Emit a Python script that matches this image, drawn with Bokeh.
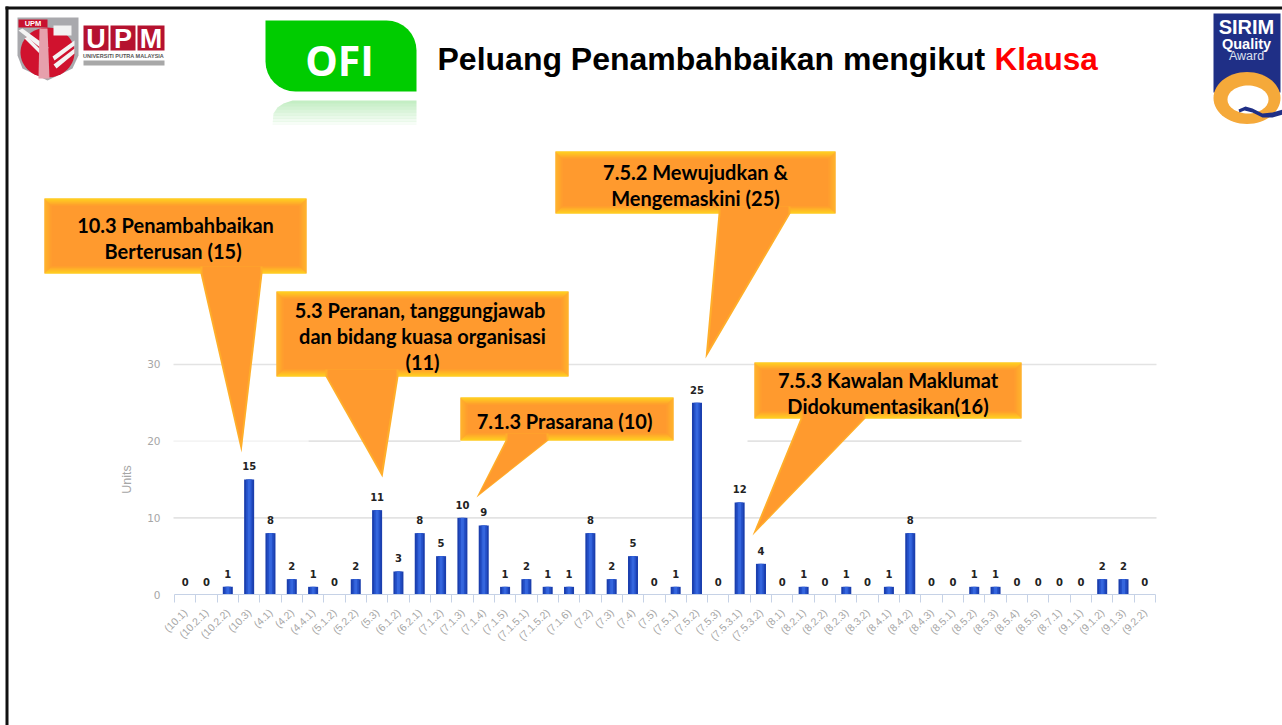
import math
from bokeh.plotting import figure
from bokeh.models import ColumnDataSource, FixedTicker, Label, PolyAnnotation
from bokeh.core.properties import value
from bokeh.embed import file_html
from bokeh.resources import INLINE

clauses = ["(10.1)", "(10.2.1)", "(10.2.2)", "(10.3)", "(4.1)", "(4.2)", "(4.4.1)", "(5.1.2)", "(5.2.2)", "(5.3)",
           "(6.1.2)", "(6.2.1)", "(7.1.2)", "(7.1.3)", "(7.1.4)", "(7.1.5)", "(7.1.5.1)", "(7.1.5.2)", "(7.1.6)", "(7.2)",
           "(7.3)", "(7.4)", "(7.5)", "(7.5.1)", "(7.5.2)", "(7.5.3)", "(7.5.3.1)", "(7.5.3.2)", "(8.1)", "(8.2.1)",
           "(8.2.2)", "(8.2.3)", "(8.3.2)", "(8.4.1)", "(8.4.2)", "(8.4.3)", "(8.5.1)", "(8.5.2)", "(8.5.3)", "(8.5.4)",
           "(8.5.5)", "(8.7.1)", "(9.1.1)", "(9.1.2)", "(9.1.3)", "(9.2.2)"]
units = [0, 0, 1, 15, 8, 2, 1, 0, 2, 11,
         3, 8, 5, 10, 9, 1, 2, 1, 1, 8,
         2, 5, 0, 1, 25, 0, 12, 4, 0, 1,
         0, 1, 0, 1, 8, 0, 0, 1, 1, 0,
         0, 0, 0, 2, 2, 0]
y_ticks = [0, 10, 20, 30]
title_main = "Peluang Penambahbaikan mengikut "
title_red = "Klausa"

W, H = 1282, 725
# the frame fills the page; the scales put the plot area at these page pixels
PLOT_L, PLOT_R, PLOT_BASE, PX_PER_UNIT = 174.0, 1155.0, 594.0, 7.667
n = len(clauses)
px_per_cat = (PLOT_R - PLOT_L) / n
x_start = -0.5 - PLOT_L / px_per_cat
x_end = n - 0.5 + (W - PLOT_R) / px_per_cat
y_end = PLOT_BASE / PX_PER_UNIT
y_start = -(H - PLOT_BASE) / PX_PER_UNIT


def cat(page_x):
    return (page_x - PLOT_L) / px_per_cat - 0.5


idx = list(range(n))
src = ColumnDataSource(dict(x=idx, y=units, t=[str(v) for v in units]))

p = figure(width=W, height=H, output_backend="svg", toolbar_location=None,
           x_range=(x_start, x_end), y_range=(y_start, y_end), min_border=0)
p.outline_line_color = None
p.background_fill_color = "white"
p.border_fill_color = "white"
p.grid.visible = False

# horizontal rules: the 20 rule is broken up in the original slide
for y, x0, x1, col in [(10, 173, 1156, "#E3E3E3"), (30, 173, 1156, "#E3E3E3"), (20, 173, 308, "#F4F4F4"),
                       (20, 308, 460, "#E3E3E3"), (20, 747, 1021, "#E3E3E3")]:
    p.segment(x0=[cat(x0)], x1=[cat(x1)], y0=[y], y1=[y], line_color=col, line_width=1.6)
p.vbar(x="x", top="y", width=0.47, bottom=0, source=src, fill_color="#1B3FAE", line_color=None)
p.vbar(x="x", top="y", width=0.3, bottom=0, source=src, fill_color="#2450C8", line_color=None)
p.vbar(x="x", top="y", width=0.14, bottom=0, source=src, fill_color="#3566DE", line_color=None)
p.text(x="x", y="y", text="t", source=src, y_offset=-9, text_align="center", text_baseline="bottom",
       text_font=value("DejaVu Sans"), text_font_style="bold", text_font_size="10px", text_color="#222222")

xa = p.xaxis[0]
xa.fixed_location = 0
xa.bounds = (-0.5, n - 0.5)
xa.ticker = FixedTicker(ticks=idx, minor_ticks=[i - 0.5 for i in range(n + 1)])
xa.major_label_overrides = {i: c for i, c in enumerate(clauses)}
xa.major_label_orientation = math.pi / 4
xa.major_label_text_font = "Liberation Sans"
xa.major_label_text_font_size = "10.5px"
xa.major_label_text_color = "#A6A6A6"
xa.major_tick_out = 0
xa.major_tick_in = 0
xa.major_label_standoff = 8
xa.major_tick_line_color = None
xa.minor_tick_out = 8
xa.minor_tick_in = 0
xa.minor_tick_line_color = "#C6D2E6"
xa.axis_line_color = "#C6D2E6"

ya = p.yaxis[0]
ya.fixed_location = -0.5
ya.bounds = (0, 30)
ya.ticker = FixedTicker(ticks=y_ticks)
ya.axis_line_color = None
ya.major_tick_line_color = None
ya.minor_tick_line_color = None
ya.major_tick_out = 0
ya.major_tick_in = 0
ya.major_label_text_font = "DejaVu Sans"
ya.major_label_text_font_size = "10.5px"
ya.major_label_text_color = "#A6A6A6"
ya.major_label_standoff = 14
ya.axis_label = "Units"
ya.axis_label_text_font = "Liberation Sans"
ya.axis_label_text_font_style = "normal"
ya.axis_label_text_font_size = "12.5px"
ya.axis_label_text_color = "#A6A6A6"
ya.axis_label_standoff = 10


# decoration is placed in page pixels
def poly(pts, color, alpha=1.0):
    p.add_layout(PolyAnnotation(xs=[a for a, b in pts], ys=[b for a, b in pts],
                                xs_units="canvas", ys_units="canvas",
                                fill_color=color, fill_alpha=alpha, line_color=None, level="annotation"))


def label(x, y, text, size, color="black", font="Lato", style="bold", align="left", angle=0):
    p.add_layout(Label(x=x, y=y, x_units="canvas", y_units="canvas", text=text,
                       text_font=font, text_font_style=style, text_font_size=f"{size}px",
                       text_color=color, text_align=align, text_baseline="middle", angle=angle,
                       level="annotation"))


def rect(x0, y0, x1, y1, color, alpha=1.0):
    poly([(x0, y0), (x1, y0), (x1, y1), (x0, y1)], color, alpha)


def mix(a, b, t):
    ca = [int(a[i:i + 2], 16) for i in (1, 3, 5)]
    cb = [int(b[i:i + 2], 16) for i in (1, 3, 5)]
    return "#" + "".join(f"{round(u + (v - u) * t):02X}" for u, v in zip(ca, cb))


def ellipse(cx, cy, rx, ry, color):
    poly([(cx + rx * math.cos(a / 30 * math.pi), cy + ry * math.sin(a / 30 * math.pi)) for a in range(60)], color)


def callout(x0, y0, x1, y1, b0, b1, tip, lines, line_h=26):
    base = "#FF9A2E"
    rect(x0, y0, x1, y1, base)
    steps = 7
    for i in range(steps):
        c = mix("#FFE21C", base, i / steps)
        s = mix("#FFBC2C", base, i / steps)
        poly([(x0 + i, y0 + i), (x0 + i + 1, y0 + i + 1), (x0 + i + 1, y1 - i - 1), (x0 + i, y1 - i)], s)
        poly([(x1 - i, y0 + i), (x1 - i - 1, y0 + i + 1), (x1 - i - 1, y1 - i - 1), (x1 - i, y1 - i)], s)
        poly([(x0 + i, y0 + i), (x1 - i, y0 + i), (x1 - i - 1, y0 + i + 1), (x0 + i + 1, y0 + i + 1)], c)
        poly([(x0 + i, y1 - i), (x1 - i, y1 - i), (x1 - i - 1, y1 - i - 1), (x0 + i + 1, y1 - i - 1)], c)
    poly([(b0, y1 - 7), (b1, y1 - 7), (b1, y1), tip, (b0, y1)], "#FFAE2A")
    bc = (b0 + b1) / 2
    inner_tip = (tip[0] + 0.06 * (bc - tip[0]), tip[1] + 0.06 * (y1 - tip[1]))
    poly([(b0 + 2, y1 - 7), (b1 - 2, y1 - 7), (b1 - 2, y1), inner_tip, (b0 + 2, y1)], base)
    cx = (x0 + x1) / 2
    cy = (y0 + y1) / 2 - (len(lines) - 1) * line_h / 2 + 2
    for k, t in enumerate(lines):
        label(cx, cy + k * line_h, t, 20, align="center")


# page frame
rect(5, 6, 1282, 9, "#111111")
rect(5, 6, 8, 725, "#111111")

# UPM logo
poly([(17, 17), (78, 17), (78, 55), (72, 68), (47, 80), (22, 68), (17, 55)], "#A9A9AD")
ellipse(47, 52, 27, 25, "#D0122E")
rect(18, 19, 47, 27, "#C8102E")
label(32.5, 23, "UPM", 7.5, "white", "Liberation Sans", align="center")
rect(53, 25, 71, 35, "#F2F2F2")
poly([(18, 30), (22, 28), (48, 47), (46, 52)], "#F4F4F4")
poly([(24, 38), (27, 36), (46, 55), (44, 58)], "#F4F4F4")
poly([(74, 40), (74, 45), (54, 60), (52, 56)], "#F4F4F4")
poly([(74, 48), (74, 53), (56, 68), (53, 64)], "#F4F4F4")
poly([(39, 28), (47, 28), (49, 78), (38, 78)], "#E6A0AC")
for x0, x1, letter in [(83, 108, "U"), (110, 135, "P"), (137, 164, "M")]:
    rect(x0, 25, x1, 50, "#B5122F")
    label((x0 + x1) / 2, 38, letter, 27, "white", "Liberation Sans", align="center")
label(123, 55, "UNIVERSITI PUTRA MALAYSIA", 5.5, "#555555", "Liberation Sans", align="center")
rect(83, 60, 164, 65, "#A8A8A8")

# OFI tab
green = "#00CC00"
tab = [(265, 20)] + [(386 + 30 * math.cos(a / 8 * math.pi / 2 - math.pi / 2), 50 + 30 * math.sin(a / 8 * math.pi / 2 - math.pi / 2)) for a in range(9)]
tab += [(416, 91)] + [(295 - 30 * math.sin(a / 8 * math.pi / 2), 61 + 30 * math.cos(a / 8 * math.pi / 2)) for a in range(9)]
poly(tab, green)
# the tab's reflection: a pale arc-topped shape fading out downwards
poly([(272, 124), (273, 113), (277, 107), (283, 103), (292, 100), (416, 100), (416, 124)], "#C4EEC4")
for i in range(8):
    rect(268, 103 + i * 3, 418, 106 + i * 3, "white", 0.14 + i * 0.12)
label(339, 59, "OFI", 41, "white", "Open Sans", align="center")

# title
label(437, 58, title_main, 32, "black", "Liberation Sans")
label(994, 58, title_red, 31.5, "#FF0000", "Liberation Sans")

# SIRIM badge
navy = "#1F2F86"
poly([(1213, 13), (1280, 13), (1280, 92), (1213, 92)], navy)
ellipse(1246.5, 97.5, 33.5, 26, "#F5A93A")
ellipse(1247.5, 99, 20.5, 14, "white")
poly([(1238, 109), (1245, 106), (1252, 108), (1262, 113), (1272, 112), (1282, 109), (1282, 114), (1272, 117), (1262, 117), (1252, 112), (1244, 110), (1239, 112)], navy)
label(1246, 26, "SIRIM", 20, "white", "Liberation Sans", align="center")
label(1246, 43, "Quality", 14.5, "white", "Liberation Sans", align="center")
label(1246, 55, "Award", 12.5, "#DDE0EE", "Liberation Sans", "normal", align="center")

# callouts
callout(44, 198, 306, 273, 200, 262, (241, 452), ["10.3 Penambahbaikan", "Berterusan  (15)"])
callout(276, 291, 568, 376, 325, 398, (382, 477), ["5.3  Peranan, tanggungjawab", "dan bidang kuasa organisasi", "(11)"])
callout(460, 397, 673, 440, 505, 548, (476, 497), ["7.1.3  Prasarana (10)"])
callout(555, 151, 835, 213, 718, 790, (705, 358), ["7.5.2 Mewujudkan &", "Mengemaskini (25)"])
callout(754, 362, 1021, 418, 800, 865, (752, 535), ["7.5.3 Kawalan Maklumat", "Didokumentasikan(16)"])

open("out.html", "w").write(file_html(p, INLINE))
